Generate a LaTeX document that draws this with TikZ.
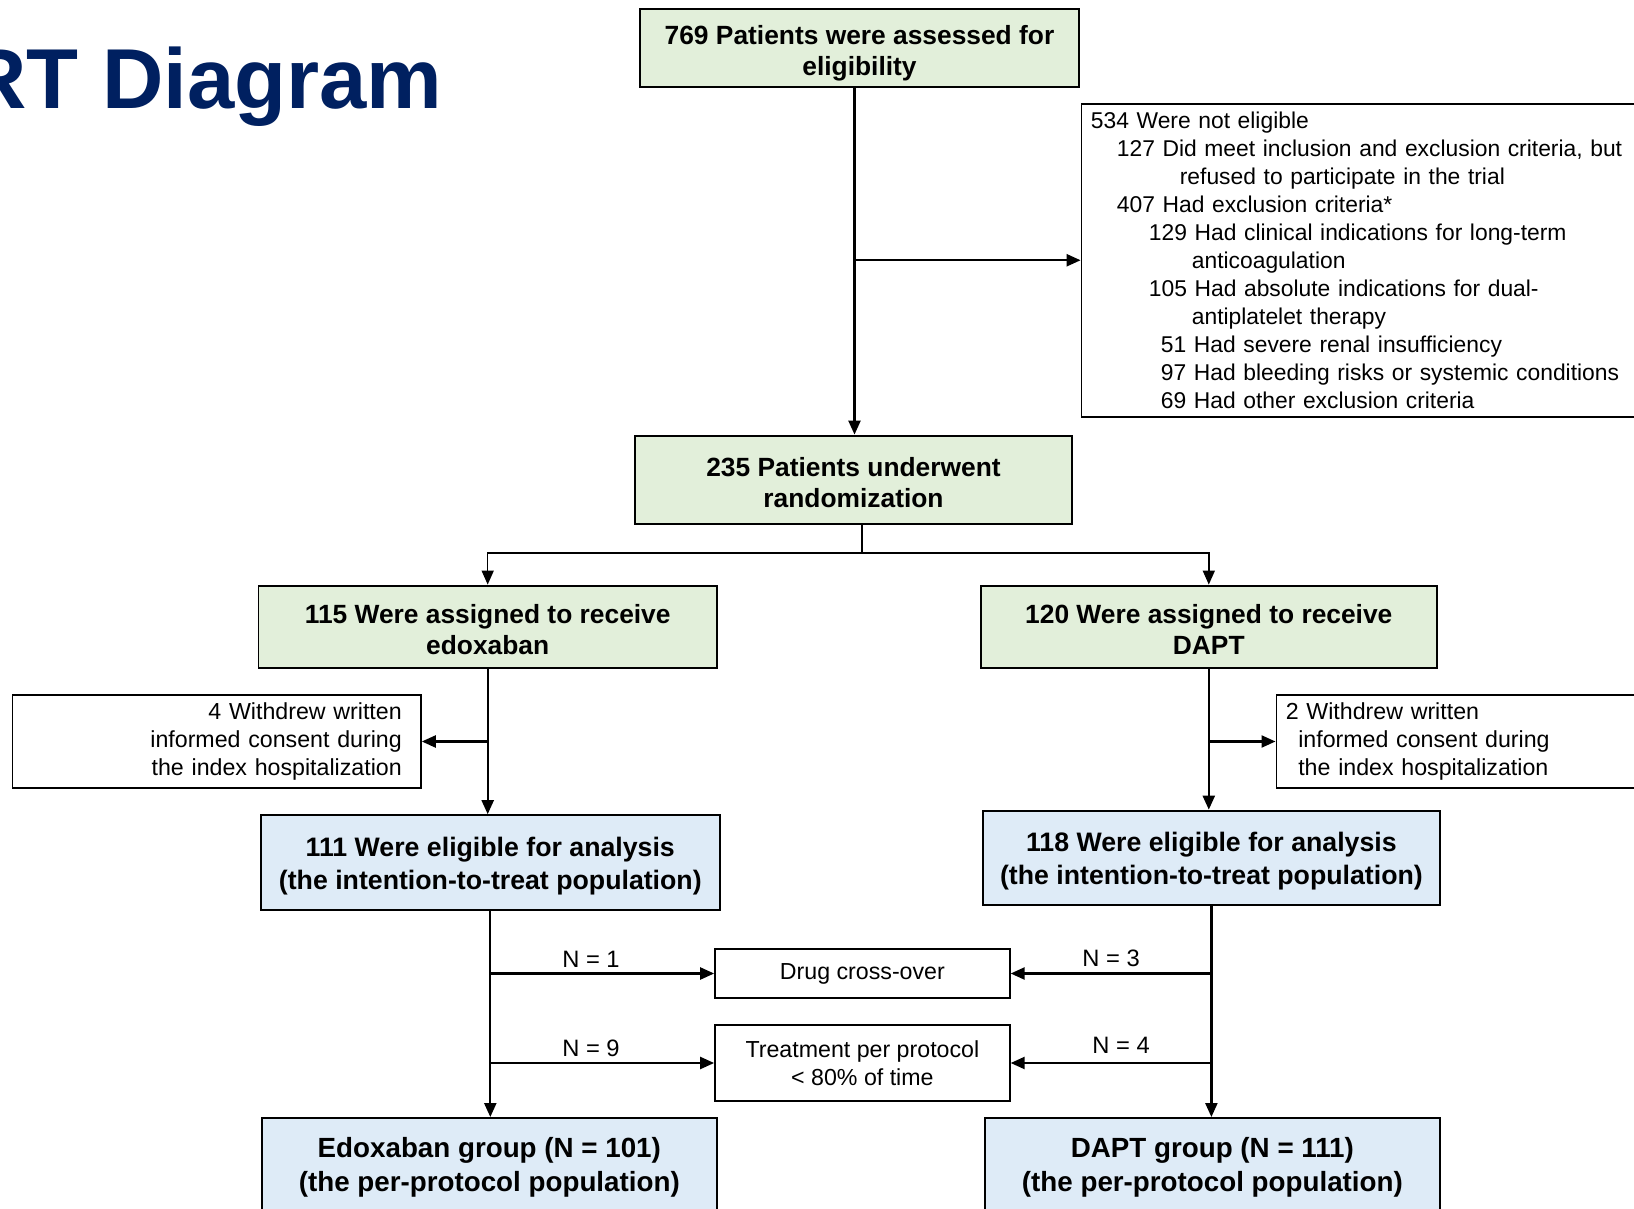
\documentclass[tikz,border=0pt]{standalone}
\usepackage{fontspec}
\setmainfont{Liberation Sans}
\usepackage{xcolor}
\usepackage{tikz}
\usetikzlibrary{positioning,arrows.meta}
\definecolor{navy}{HTML}{002060}
\definecolor{mint}{HTML}{E2EFDA}
\definecolor{sky}{HTML}{DEEBF7}

\begin{document}
\begin{tikzpicture}[
  x=0.02cm, y=-0.02cm,
  font=\fontsize{13.2pt}{15.9pt}\selectfont,
  >={Triangle[length=0.28cm, width=0.24cm]},
  gbox/.style={draw, line width=1.1pt, fill=mint, align=center, inner sep=0pt, text height=32pt, font=\bfseries\fontsize{15pt}{17.8pt}\selectfont},
  bbox/.style={draw, line width=1.1pt, fill=sky, align=center, inner sep=0pt, text height=33.5pt, font=\bfseries\fontsize{15.2pt}{18.4pt}\selectfont},
  note/.style={draw, line width=0.9pt, fill=white, inner ysep=0pt},
  lbl/.style={inner sep=1pt, font=\fontsize{13.5pt}{16pt}\selectfont}
]
\useasboundingbox[fill=white] (0,0) rectangle (1634,1209);
\node[anchor=base east, inner sep=0pt, text=navy, font=\bfseries\fontsize{48.4pt}{58pt}\selectfont] (title) at (443,109) {RT Diagram};
% main column
\node[gbox, text height=35pt, minimum width=8.78cm, minimum height=1.56cm] (elig) at (859.5,48) {769 Patients were assessed for\\eligibility};
\node[note, anchor=north west, text width=11cm, inner xsep=0.19cm, minimum height=6.26cm, align=left, font=\fontsize{13pt}{15.9pt}\selectfont] (excl) at (1080.6,103) {534 Were not eligible\\
\hspace*{0.52cm}127 Did meet inclusion and exclusion criteria, but\\
\hspace*{1.78cm}refused to participate in the trial\\
\hspace*{0.52cm}407 Had exclusion criteria*\\
\hspace*{1.16cm}129 Had clinical indications for long-term\\
\hspace*{2.02cm}anticoagulation\\
\hspace*{1.16cm}105 Had absolute indications for dual-\\
\hspace*{2.02cm}antiplatelet therapy\\
\hspace*{1.40cm}51 Had severe renal insufficiency\\
\hspace*{1.40cm}97 Had bleeding risks or systemic conditions\\
\hspace*{1.40cm}69 Had other exclusion criteria};
\node[gbox, minimum width=8.75cm, minimum height=1.77cm] (rand) at (853.5,479.8) {235 Patients underwent\\randomization};
\coordinate (split) at (862,553);
% two arms
\node[gbox, minimum width=9.17cm, minimum height=1.65cm] (edox) at (487.7,626.8) {115 Were assigned to receive\\edoxaban};
\node[gbox, minimum width=9.13cm, minimum height=1.65cm] (dapt) at (1208.8,626.8) {120 Were assigned to receive\\DAPT};
\node[note, align=right, text width=7.4cm, minimum width=8.17cm, minimum height=1.86cm] (wdE) at (216.8,741.5) {4 Withdrew written\\informed consent during\\the index hospitalization};
\node[note, anchor=west, align=left, text width=7.5cm, inner xsep=0.19cm, minimum height=1.86cm] (wdD) at (1275.5,741.5) {2 Withdrew written\\\hspace*{0.25cm}informed consent during\\\hspace*{0.25cm}the index hospitalization};
\node[bbox, minimum width=9.19cm, minimum height=1.89cm] (ittE) at (490.3,862.4) {111 Were eligible for analysis\\(the intention-to-treat population)};
\node[bbox, minimum width=9.15cm, minimum height=1.88cm] (ittD) at (1211.4,857.6) {118 Were eligible for analysis\\(the intention-to-treat population)};
\node[note, minimum width=5.9cm, minimum height=0.98cm] (cross) at (862.4,973.5) {Drug cross-over};
\node[note, align=center, minimum width=5.9cm, minimum height=1.53cm] (proto) at (862.4,1063) {Treatment per protocol\\< 80\% of time};
\node[bbox, minimum width=9.11cm, minimum height=1.88cm, font=\bfseries\fontsize{15.8pt}{19.2pt}\selectfont] (ppE) at (489.3,1165) {Edoxaban group (N = 101)\\(the per-protocol population)};
\node[bbox, minimum width=9.10cm, minimum height=1.88cm, font=\bfseries\fontsize{15.8pt}{19.2pt}\selectfont] (ppD) at (1212.4,1165) {DAPT group (N = 111)\\(the per-protocol population)};
% connectors
\draw[->, line width=1.3pt] ([xshift=-0.1cm]elig.south) -- ([xshift=-0.1cm]elig.south |- rand.north);
\draw[->, line width=1.3pt] ([xshift=-0.1cm]elig.south |- excl.west) -- (excl.west);
\draw[line width=0.8pt] (rand.south -| split) -- (split);
\draw[->, line width=0.9pt] (split) -| (edox.north);
\draw[->, line width=0.9pt] (split) -| (dapt.north);
\draw[->, line width=1.3pt] (edox.south) -- (edox.south |- ittE.north);
\draw[->, line width=1.3pt] (edox.south |- wdE.east) -- (wdE.east);
\draw[->, line width=1.3pt] (dapt.south) -- (dapt.south |- ittD.north);
\draw[->, line width=1.3pt] (dapt.south |- wdD.west) -- (wdD.west);
\draw[->, line width=1.3pt] (ittE.south) -- (ittE.south |- ppE.north);
\draw[->, line width=1.3pt] (ittD.south) -- (ittD.south |- ppD.north);
\draw[->, line width=1.3pt] (ittE.south |- cross.west) -- node[lbl, above=2pt, pos=0.45] {N = 1} (cross.west);
\draw[->, line width=1.3pt] (ittE.south |- proto.west) -- node[lbl, above=2pt, pos=0.45] {N = 9} (proto.west);
\draw[->, line width=1.3pt] (ittD.south |- cross.east) -- node[lbl, above=2pt] {N = 3} (cross.east);
\draw[->, line width=1.3pt] (ittD.south |- proto.east) -- node[lbl, above=4pt, pos=0.45] {N = 4} (proto.east);
\end{tikzpicture}
\end{document}
